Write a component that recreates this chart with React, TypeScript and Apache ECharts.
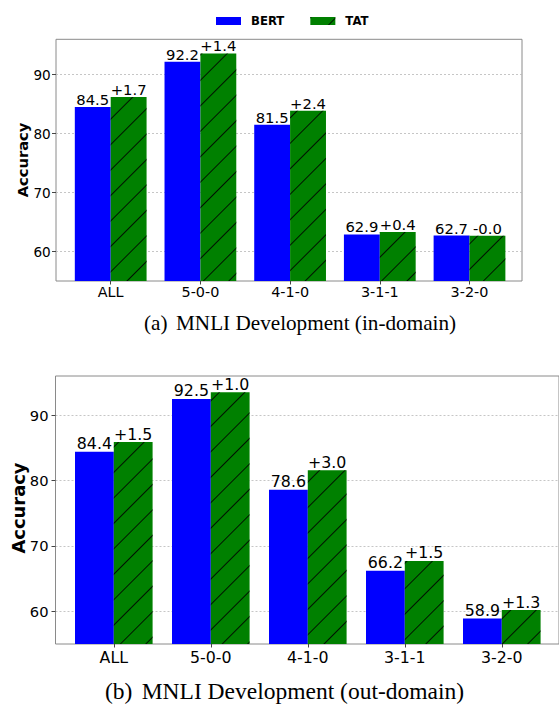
import React, { useEffect, useRef } from 'react';
import * as echarts from 'echarts';

const categories = ['ALL', '5-0-0', '4-1-0', '3-1-1', '3-2-0'];
const bertInDomain = [84.5, 92.2, 81.5, 62.9, 62.7];
const gainInDomain = [1.7, 1.4, 2.4, 0.4, -0.02];
const bertOutDomain = [84.4, 92.5, 78.6, 66.2, 58.9];
const gainOutDomain = [1.5, 1.0, 3.0, 1.5, 1.3];
const yTicks = [60, 70, 80, 90];
const yMin = 55;
const yMax = 96;
const seriesNames = ['BERT', 'TAT'];
const yAxisTitle = 'Accuracy';
const captionLabels = ['(a)', '(b)'];
const captionTexts = ['MNLI Development (in-domain)', 'MNLI Development (out-domain)'];

const FONT = 'DejaVu Sans';
const SERIF = 'Liberation Serif';
const BLUE = '#0000ff';
const GREEN = '#008000';

const fmtGain = (g: number) => (g < 0 ? '-' : '+') + Math.abs(g).toFixed(1);
const addGain = (b: number[], g: number[]) => b.map((v, i) => Math.round((v + g[i]) * 100) / 100);

const hatch = {
  symbol: 'rect',
  symbolSize: 1,
  color: 'rgba(0,0,0,0.85)',
  dashArrayX: [1, 0],
  dashArrayY: [0.9, 17],
  rotation: -Math.PI / 4,
};

type Panel = {
  frame: { left: number; top: number; width: number; height: number };
  band: { left: number; width: number };
  bert: number[];
  gain: number[];
  yTickSize: number;
  xTickSize: number;
  labelSize: number;
  yLabelMargin: number;
  xLabelMargin: number;
};

const panels: Panel[] = [
  {
    frame: { left: 56, top: 39.3, width: 466, height: 241.7 },
    band: { left: 65.85, width: 448.5 },
    bert: bertInDomain,
    gain: gainInDomain,
    yTickSize: 13.6,
    xTickSize: 14.4,
    labelSize: 14.8,
    yLabelMargin: 5.3,
    xLabelMargin: 4.3,
  },
  {
    frame: { left: 55.5, top: 376, width: 505, height: 268 },
    band: { left: 65.3, width: 485 },
    bert: bertOutDomain,
    gain: gainOutDomain,
    yTickSize: 14.7,
    xTickSize: 15.8,
    labelSize: 15.8,
    yLabelMargin: 7,
    xLabelMargin: 5.8,
  },
];

function buildOption() {
  const grid: any[] = [];
  const xAxis: any[] = [];
  const yAxis: any[] = [];
  const series: any[] = [];

  panels.forEach((p, i) => {
    const fi = i * 2;
    const di = i * 2 + 1;
    grid.push({
      left: p.frame.left,
      top: p.frame.top,
      width: p.frame.width,
      height: p.frame.height,
      show: true,
      borderColor: '#8a8a8a',
      borderWidth: 1,
      backgroundColor: 'transparent',
      containLabel: false,
    });
    grid.push({
      left: p.band.left,
      top: p.frame.top,
      width: p.band.width,
      height: p.frame.height,
      containLabel: false,
    });
    xAxis.push({ gridIndex: fi, type: 'value', min: 0, max: 1, show: false });
    xAxis.push({
      gridIndex: di,
      type: 'category',
      data: categories,
      boundaryGap: true,
      axisLine: { show: false },
      axisTick: { show: true, alignWithLabel: true, length: 3.5, lineStyle: { color: '#444', width: 1 } },
      axisLabel: { color: '#000', fontFamily: FONT, fontSize: p.xTickSize, margin: p.xLabelMargin },
      splitLine: { show: false },
    });
    yAxis.push({
      gridIndex: fi,
      type: 'value',
      min: yMin,
      max: yMax,
      axisLine: { show: false },
      axisTick: { show: true, customValues: yTicks, length: 4, lineStyle: { color: '#444', width: 1 } },
      axisLabel: { customValues: yTicks, color: '#000', fontFamily: FONT, fontSize: p.yTickSize, margin: p.yLabelMargin },
      splitLine: { show: true, lineStyle: { color: '#b8b8b8', width: 0.8, type: [2, 2] } },
    });
    yAxis.push({ gridIndex: di, type: 'value', min: yMin, max: yMax, show: false });

    const tat = addGain(p.bert, p.gain);
    const labelBase = { show: true, position: 'top', distance: 0, color: '#000', fontFamily: FONT, fontSize: p.labelSize };
    series.push({
      type: 'bar',
      name: seriesNames[0],
      xAxisIndex: di,
      yAxisIndex: di,
      data: p.bert,
      barWidth: '40%',
      barGap: '0%',
      itemStyle: { color: BLUE },
      label: { ...labelBase, formatter: (d: any) => Number(d.value).toFixed(1) },
      emphasis: { disabled: true },
    });
    series.push({
      type: 'bar',
      name: seriesNames[1],
      xAxisIndex: di,
      yAxisIndex: di,
      data: tat,
      barWidth: '40%',
      barGap: '0%',
      itemStyle: { color: GREEN, decal: hatch },
      label: { ...labelBase, formatter: (d: any) => fmtGain(p.gain[d.dataIndex]) },
      emphasis: { disabled: true },
    });
  });

  const graphic: any[] = [
    {
      type: 'text', x: 22, y: 160, rotation: Math.PI / 2,
      style: { text: yAxisTitle, fontWeight: 'bold', fontSize: 14.7, fontFamily: FONT, fill: '#000', align: 'center', verticalAlign: 'middle' },
    },
    {
      type: 'text', x: 18.5, y: 508, rotation: Math.PI / 2,
      style: { text: yAxisTitle, fontWeight: 'bold', fontSize: 17.9, fontFamily: FONT, fill: '#000', align: 'center', verticalAlign: 'middle' },
    },
    {
      type: 'text', x: 144, y: 323,
      style: { text: captionLabels[0], fontSize: 21.2, fontFamily: SERIF, fill: '#000', align: 'left', verticalAlign: 'middle' },
    },
    {
      type: 'text', x: 176, y: 323,
      style: { text: captionTexts[0], fontSize: 21.2, fontFamily: SERIF, fill: '#000', align: 'left', verticalAlign: 'middle' },
    },
    {
      type: 'text', x: 105, y: 691.3,
      style: { text: captionLabels[1], fontSize: 23.5, fontFamily: SERIF, fill: '#000', align: 'left', verticalAlign: 'middle' },
    },
    {
      type: 'text', x: 141.7, y: 691.3,
      style: { text: captionTexts[1], fontSize: 23.5, fontFamily: SERIF, fill: '#000', align: 'left', verticalAlign: 'middle' },
    },
  ];

  return {
    animation: false,
    backgroundColor: '#ffffff',
    legend: {
      data: seriesNames,
      left: 211,
      top: 10,
      icon: 'rect',
      itemWidth: 25,
      itemHeight: 8,
      itemGap: 26,
      selectedMode: false,
      textStyle: { fontFamily: FONT, fontWeight: 'bold', fontSize: 11.7, color: '#000', padding: [0, 0, 0, 5] },
    },
    grid,
    xAxis,
    yAxis,
    series,
    graphic,
  };
}

export default function App() {
  const ref = useRef<HTMLDivElement>(null);
  useEffect(() => {
    if (!ref.current) return;
    const chart = echarts.init(ref.current, undefined, { renderer: 'svg' });
    chart.setOption(buildOption() as any);
    return () => chart.dispose();
  }, []);
  return (
    <div
      ref={ref}
      style={{ position: 'fixed', left: 0, top: 0, width: 559, height: 704, background: '#fff' }}
    />
  );
}
